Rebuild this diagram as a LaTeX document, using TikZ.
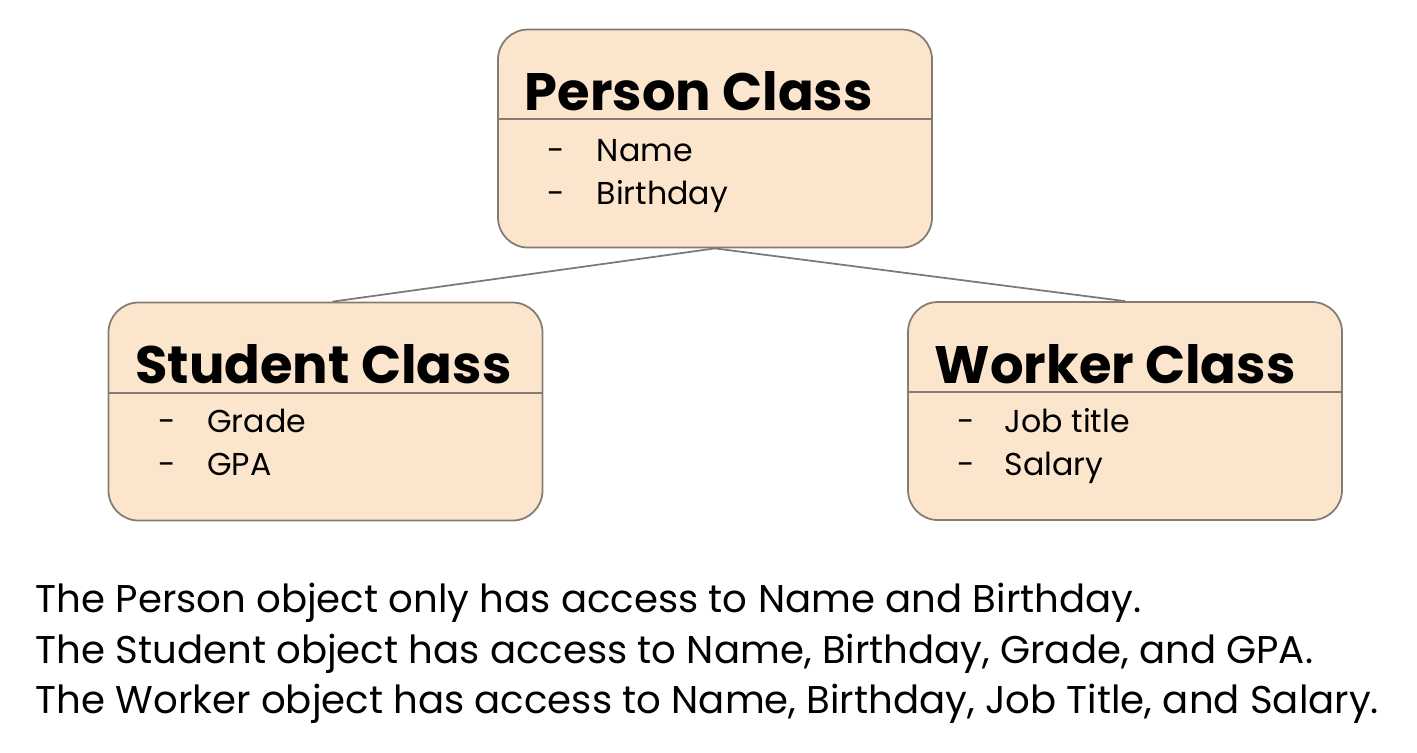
\documentclass[tikz,border=0pt]{standalone}
\usepackage{fontspec}
\setmainfont{Poppins}
\usepackage{xcolor}
\definecolor{boxfill}{HTML}{FCE5CD}
\definecolor{boxline}{HTML}{857B72}
\definecolor{linkgray}{HTML}{7A7A7A}
\tikzset{
	classbox/.style={
			draw=boxline, fill=boxfill, rounded corners=0.3cm, line width=0.5pt,
			minimum width=4.34cm, minimum height=2.18cm, inner sep=0pt
		}
}
\tikzstyle{title} = [anchor=base west, inner sep=0pt, font=\fontsize{15}{18}\bfseries\selectfont]
\tikzstyle{items} = [anchor=base west, inner sep=0pt, font=\fontsize{9}{12.2}\selectfont]
\tikzstyle{note} = [anchor=base west, inner sep=0pt, font=\fontsize{11}{13}\selectfont]
\tikzstyle{link} = [draw, linkgray, line width=0.5pt, -]
\usetikzlibrary{calc}

\begin{document}
\begin{tikzpicture}
  \useasboundingbox (0, 0) rectangle (14.17, -7.52);

  % Boxes
  \node[classbox] (person)  at (7.15, -1.385)  {};
  \node[classbox] (student) at (3.255, -4.115) {};
  \node[classbox] (worker)  at (11.25, -4.11)  {};

  % Dividers
  \draw[boxline, line width=0.5pt] ($(person.north west)+(0,-0.9)$) -- ($(person.north east)+(0,-0.9)$);
  \draw[boxline, line width=0.5pt] ($(student.north west)+(0,-0.91)$) -- ($(student.north east)+(0,-0.91)$);
  \draw[boxline, line width=0.5pt] ($(worker.north west)+(0,-0.91)$) -- ($(worker.north east)+(0,-0.91)$);

  % Titles
  \node[title] (persontitle)  at ($(person.north west)+(0.27,-0.82)$)  {Person Class};
  \node[title] (studenttitle) at ($(student.north west)+(0.27,-0.82)$) {Student Class};
  \node[title] (workertitle)  at ($(worker.north west)+(0.27,-0.82)$)  {Worker Class};

  % Fields
  \node[items] (personitems) at ($(person.north west)+(0.5,-1.33)$)
    {\begin{tabular}[t]{@{}p{0.49cm}@{}l@{}} - & Name\\ - & Birthday \end{tabular}};
  \node[items] (studentitems) at ($(student.north west)+(0.5,-1.31)$)
    {\begin{tabular}[t]{@{}p{0.49cm}@{}l@{}} - & Grade\\ - & GPA \end{tabular}};
  \node[items] (workeritems) at ($(worker.north west)+(0.5,-1.31)$)
    {\begin{tabular}[t]{@{}p{0.47cm}@{}l@{}} - & Job title\\ - & Salary \end{tabular}};

  % Links
  \draw[link] (person.south) -- ($(student.north)+(0.07,0)$);
  \draw[link] (person.south) -- (worker.north);

  % Notes
  \node[note] (note1) at (0.35, -6.12) {The Person object only has access to Name and Birthday.};
  \node[note] (note2) at (0.35, -6.63) {The Student object has access to Name, Birthday, Grade, and GPA.};
  \node[note] (note3) at (0.35, -7.13) {The Worker object has access to Name, Birthday, Job Title, and Salary.};
\end{tikzpicture}
\end{document}
